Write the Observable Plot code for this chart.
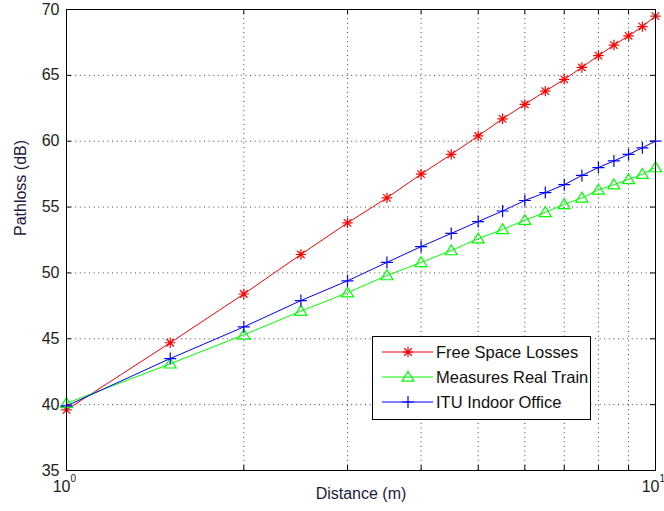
<!DOCTYPE html>
<html>
<head>
<meta charset="utf-8">
<script src="https://cdn.jsdelivr.net/npm/d3@7"></script>
<script src="https://cdn.jsdelivr.net/npm/@observablehq/plot@0.6"></script>
<style>
  html, body { margin: 0; padding: 0; background: #fff; }
  #chart svg { display: block; font-family: "Liberation Sans", Arial, sans-serif; }
</style>
</head>
<body>
<div id="chart"></div>
<script>
// Distance samples (m) and path loss (dB) for the three models
const distance = [1, 1.5, 2, 2.5, 3, 3.5, 4, 4.5, 5, 5.5, 6, 6.5, 7, 7.5, 8, 8.5, 9, 9.5, 10];
const freeSpace = [39.6, 44.7, 48.4, 51.4, 53.8, 55.7, 57.5, 59.0, 60.4, 61.7, 62.8, 63.8, 64.7, 65.6, 66.5, 67.3, 68.0, 68.7, 69.5];
const measuredTrain = [40.1, 43.1, 45.3, 47.1, 48.5, 49.8, 50.8, 51.7, 52.6, 53.3, 54.0, 54.6, 55.2, 55.7, 56.3, 56.7, 57.1, 57.5, 58.0];
const ituOffice = [39.9, 43.5, 45.9, 47.9, 49.4, 50.8, 52.0, 53.0, 53.9, 54.7, 55.5, 56.1, 56.7, 57.4, 58.0, 58.5, 59.0, 59.5, 60.0];

const seriesNames = ["Free Space Losses", "Measures Real Train", "ITU Indoor Office"];
const seriesColors = ["#ff0000", "#00ff00", "#0000ff"];

// Axis ticks
const yTicks = [35, 40, 45, 50, 55, 60, 65, 70];
const yGrid = [40, 45, 50, 55, 60, 65];
const xMajor = [1, 10];
const xMinor = [2, 3, 4, 5, 6, 7, 8, 9];
const xAllTicks = [...xMajor, ...xMinor];

const W = 664, H = 511;
const mL = 66, mR = 9, mT = 9, mB = 41;
const plotW = W - mL - mR, plotH = H - mT - mB;
const font = "'Liberation Sans', Arial, sans-serif";

// MATLAB-style marker shapes
const radiusOf = size => Math.sqrt(size / Math.PI);
const asterisk = {
  draw(ctx, size) {
    const r = radiusOf(size), d = r * 0.72;
    ctx.moveTo(-r, 0); ctx.lineTo(r, 0);
    ctx.moveTo(0, -r); ctx.lineTo(0, r);
    ctx.moveTo(-d, -d); ctx.lineTo(d, d);
    ctx.moveTo(-d, d); ctx.lineTo(d, -d);
  }
};
const triangleUp = {
  draw(ctx, size) {
    const r = radiusOf(size);
    ctx.moveTo(0, -r * 0.95);
    ctx.lineTo(r, r * 0.7);
    ctx.lineTo(-r, r * 0.7);
    ctx.closePath();
  }
};
const plus = {
  draw(ctx, size) {
    const r = radiusOf(size);
    ctx.moveTo(-r, 0); ctx.lineTo(r, 0);
    ctx.moveTo(0, -r); ctx.lineTo(0, r);
  }
};
const seriesSymbols = [asterisk, triangleUp, plus];
const seriesRadius = [5.2, 6, 6];
const seriesValues = [freeSpace, measuredTrain, ituOffice];

const rows = seriesNames.flatMap((name, s) =>
  distance.map((d, i) => ({distance: d, loss: seriesValues[s][i], series: name}))
);

const gridStyle = {stroke: "#000", strokeOpacity: 0.75, strokeWidth: 1, strokeDasharray: "1,3.6"};

const marks = [
  // dotted grid
  Plot.ruleY(yGrid, gridStyle),
  Plot.ruleX(xMinor, gridStyle),
  // inward tick marks on all four sides
  Plot.ruleY(yTicks, {stroke: "#000", insetRight: plotW - 5}),
  Plot.ruleY(yTicks, {stroke: "#000", insetLeft: plotW - 5}),
  Plot.ruleX(xAllTicks, {stroke: "#000", insetTop: plotH - 5}),
  Plot.ruleX(xAllTicks, {stroke: "#000", insetBottom: plotH - 5}),
];

seriesNames.forEach((name, s) => {
  const data = rows.filter(r => r.series === name);
  marks.push(
    Plot.line(data, {x: "distance", y: "loss", stroke: seriesColors[s], strokeWidth: 1}),
    Plot.dot(data, {x: "distance", y: "loss", symbol: seriesSymbols[s], r: seriesRadius[s],
      stroke: seriesColors[s], fill: "none", strokeWidth: 1.2})
  );
});

marks.push(
  Plot.frame({stroke: "#000", strokeWidth: 1}),
  // y tick labels
  Plot.text(yTicks, {y: d => d, frameAnchor: "left", textAnchor: "end", dx: -7,
    text: d => String(d), fontSize: 16, fill: "#222"}),
  // x tick labels as powers of ten
  Plot.text(xMajor, {x: d => d, frameAnchor: "bottom", textAnchor: "end", dx: 4, dy: 21,
    text: () => "10", fontSize: 16, fill: "#222"}),
  Plot.text(xMajor, {x: d => d, frameAnchor: "bottom", textAnchor: "start", dx: 4, dy: 11,
    text: d => String(Math.round(Math.log10(d))), fontSize: 10, fill: "#222"}),
  // axis titles
  Plot.text(["Distance (m)"], {frameAnchor: "bottom", dy: 28, text: d => d, fontSize: 16, fill: "#1a1a40"}),
  Plot.text(["Pathloss (dB)"], {frameAnchor: "left", dx: -46, dy: -4, rotate: -90, text: d => d,
    fontSize: 16, fill: "#1a1a40"})
);

const chart = Plot.plot({
  width: W,
  height: H,
  marginLeft: mL,
  marginRight: mR,
  marginTop: mT,
  marginBottom: mB,
  style: {fontFamily: font, background: "#fff", overflow: "visible"},
  x: {type: "log", domain: [1, 10], axis: null},
  y: {domain: [35, 70], axis: null},
  marks
});

// Legend box inside the plot area
const svg = d3.select(chart);
const legend = svg.append("g")
  .attr("transform", "translate(372,336)")
  .attr("text-anchor", "start");
legend.append("rect")
  .attr("x", 0.5).attr("y", 0.5)
  .attr("width", 218).attr("height", 83)
  .attr("fill", "#fff").attr("stroke", "#000").attr("stroke-width", 1);
seriesNames.forEach((name, s) => {
  const g = legend.append("g").attr("transform", `translate(0,${16 + s * 25})`);
  g.append("line").attr("x1", 10).attr("x2", 61).attr("y1", 0).attr("y2", 0)
    .attr("stroke", seriesColors[s]).attr("stroke-width", 1);
  const p = d3.path();
  seriesSymbols[s].draw(p, seriesRadius[s] * seriesRadius[s] * Math.PI);
  g.append("path").attr("transform", "translate(36,0)").attr("d", p.toString())
    .attr("fill", "none").attr("stroke", seriesColors[s]).attr("stroke-width", 1.2);
  g.append("text").attr("x", 64).attr("y", 0).attr("dy", "0.36em")
    .attr("text-anchor", "start")
    .attr("font-size", 16.5).attr("fill", "#111").attr("font-family", font).text(name);
});

document.getElementById("chart").appendChild(chart);
</script>
</body>
</html>
